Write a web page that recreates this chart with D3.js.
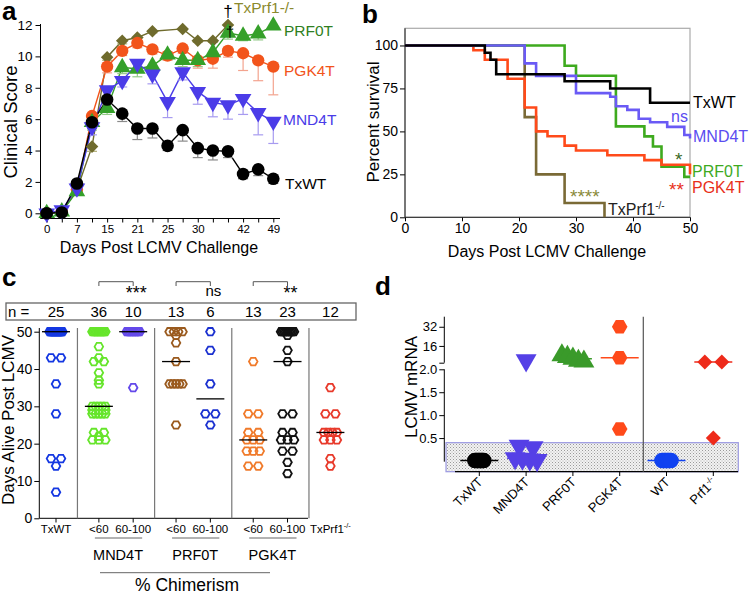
<!DOCTYPE html>
<html>
<head>
<meta charset="utf-8">
<script src="https://cdn.jsdelivr.net/npm/d3@7"></script>
<style>
  body { margin: 0; background: #fff; }
  svg { display: block; font-family: "Liberation Sans", Arial, sans-serif; }
</style>
</head>
<body>
<div id="fig"></div>
<script>
// ---- panel a: clinical score ----
const aDays = [0, 4, 7, 11, 15, 18, 21, 23, 25, 28, 30, 33, 38, 42, 45, 49];
const aLabeledDays = [0, 7, 15, 21, 25, 30, 42, 49];
const aTxWT      = [0, 0.05, 1.9, 5.8, 7.25, 6.35, 5.4, 5.4, 4.3, 5.3, 4.15, 4.0, 3.95, 2.5, 2.8, 2.2];
const aTxWTErr   = [0, 0, 0.3, 0.4, 0.3, 0.5, 0.7, 0.6, 0.3, 0.7, 0.6, 0.6, 0.4, 0.3, 0.4, 0.3];
const aPGK4T     = [0, 0.1, 1.5, 6.2, 9.35, 10.35, 10.85, 10.45, 10.05, 10.5, 9.75, 9.85, 10.35, 10.2, 9.75, 9.35];
const aPGK4TErr  = [0, 0, 0.2, 0.4, 0.4, 0.3, 0.3, 0.3, 0.3, 0.3, 0.5, 0.6, 0.4, 1.1, 1.3, 1.8];
const aPRF0T     = [0, 0.1, 1.4, 5.8, 6.7, 9.3, 9.2, 9.4, 10.1, 9.75, 9.75, 10.25, 11.5, 11.3, 11.45, 11.95];
const aPRF0TErr  = [0, 0, 0.2, 0.5, 0.4, 0.4, 0.5, 0.5, 0.3, 0.4, 0.4, 0.3, 0.4, 0.3, 0.4, 0];
const aMND4T     = [0, 0.2, 1.6, 5.5, 7.85, 8.45, 9.55, 8.85, 7.1, 9.0, 7.75, 7.05, 6.9, 7.3, 6.4, 5.85];
const aMND4TErr  = [0, 0, 0.2, 0.5, 0.4, 0.4, 0.5, 0.6, 1.0, 0.5, 0.8, 0.9, 0.9, 1.0, 1.4, 1.4];
const aTxPrf1    = [0, 0.1, 1.5, 4.25, 9.95, 11.0, 11.2, 11.6, null, 11.75, 11.0, 11.0, 12.0, null, null, null];
const aTxPrf1Err = [0, 0, 0.2, 0.3, 0.2, 0.2, 0.2, 0.1, 0, 0.1, 0.1, 0.1, 0, 0, 0, 0];

// ---- panel b: survival ----
const bTxWTDays  = [0, 14, 15, 16, 28, 36, 43, 50];
const bTxWTSurv  = [100, 95.8, 91.7, 83.3, 79.2, 75, 66.7, 66.7];
const bMND4TDays = [0, 21, 23, 30, 36, 37, 39, 41, 43, 46, 49, 50];
const bMND4TSurv = [100, 89.6, 82.3, 72.3, 70.2, 64.6, 62.5, 57.4, 55.3, 52.6, 47.9, 45.8];
const bPRF0TDays = [0, 28, 30, 37, 42, 43.5, 45, 49, 50];
const bPRF0TSurv = [100, 88.2, 82.4, 52.9, 47.1, 41.2, 29.4, 23.5, 23.5];
const bPGK4TDays = [0, 12, 14, 18, 21, 23, 25, 28, 30, 35.5, 42, 45, 50];
const bPGK4TSurv = [100, 97.2, 91.7, 80.6, 63.9, 50, 47.2, 41.7, 38.9, 36.1, 33.3, 30.6, 25];
const bPrf1Days  = [0, 21, 23, 28, 35];
const bPrf1Surv  = [100, 58.3, 25, 8.3, 0];

// ---- panel c: days alive ----
const cCats = ["TxWT", "MND4T <60", "MND4T 60-100", "PRF0T <60", "PRF0T 60-100", "PGK4T <60", "PGK4T 60-100", "TxPrf1-/-"];
const cTickText = ["TxWT", "<60", "60-100", "<60", "60-100", "<60", "60-100", "TxPrf1"];
const cSlots = [0, 1.25, 2.25, 3.5, 4.5, 5.75, 6.75, 8];
const cN = [25, 36, 10, 13, 6, 13, 23, 12];
const cTxWT = [50,50,50,50,50,50,50,50,50,50,50,50,50,50,50,50,50, 43,43,36,28,16,16,14,7];
const cMND4TLow = [50,50,50,50,50,50,50,50,50,50, 46,43,42,42,39,37,36, 30,30,30,30,30, 29,29,29, 28,28,28,28,28, 23,23,22,21,21,21];
const cMND4THigh = [50,50,50,50,50,50,50,50,50, 35];
const cPRF0TLow = [50,50,50,50, 49,47,42, 36,36,36,36,36, 25];
const cPRF0THigh = [50,45,36,28,28,25];
const cPGK4TLow = [42,28,28,23,23,21,21,21,18,18,18,14,14];
const cPGK4THigh = [50,50,50,50,50,50,50,50,50, 49,45,42,28,28,23,23,21,21,21,18,18,15,12];
const cTxPrf1 = [35,28,28,23,23,23,23,21,21,21,16,14];
const cColors = ["#1538e2", "#66e52b", "#6449ea", "#9a5a1e", "#1a30d0", "#f07a2a", "#111111", "#e8392a"];

// ---- panel d: LCMV mRNA ----
const dCats = ["TxWT", "MND4T", "PRF0T", "PGK4T", "WT", "Prf1"];
const dTxWT  = [0.01,0.01,0.01,0.01,0.01,0.01,0.01,0.01,0.01,0.01];
const dMND4T = [4.0, 0.33, 0.3, 0.06, 0.05, 0.03, 0.02];
const dPRF0T = [8.2, 6.8, 5.4, 3.6, 3.0];
const dPGK4T = [32, 6.2, 0.7];
const dWT    = [0.01,0.01,0.01,0.01,0.01,0.01,0.01,0.01];
const dPrf1  = [2.6, 2.6, 0.5];
const dDetectLimit = 0.4;
const dLowTicks = [0.5, 1.0, 1.5, 2.0];
const dHighTicks = [2, 16, 32];

const FONT = "'Liberation Sans', Arial, sans-serif";
const svg = d3.select("#fig").append("svg")
  .attr("width", 750).attr("height", 595)
  .attr("viewBox", [0, 0, 750, 595]);

function styleAxis(g, size) {
  g.attr("font-size", size).attr("font-family", FONT);
  g.select(".domain").remove();
  g.selectAll("line").attr("stroke", "#000");
}

// spread points that share a key evenly across at most maxW px
function swarm(vals, key, gap, maxW) {
  const out = vals.map(v => ({ v, dx: 0 }));
  for (const arr of d3.group(out, d => key(d.v)).values()) {
    const n = arr.length;
    if (n < 2) continue;
    const w = Math.min((n - 1) * gap, maxW);
    arr.forEach((d, j) => d.dx = -w / 2 + w * j / (n - 1));
  }
  return out;
}

function hexPath(r) {
  const p = d3.path();
  for (let k = 0; k < 6; k++) {
    const a = Math.PI / 3 * k;
    k ? p.lineTo(r * Math.cos(a), r * Math.sin(a)) : p.moveTo(r, 0);
  }
  p.closePath();
  return p.toString();
}

function symbolOf(kind, size) {
  if (kind === "circle") return { d: d3.symbol(d3.symbolCircle, size)(), rot: 0 };
  if (kind === "up") return { d: d3.symbol(d3.symbolTriangle, size)(), rot: 0 };
  if (kind === "down") return { d: d3.symbol(d3.symbolTriangle, size)(), rot: 180 };
  if (kind === "diamond") return { d: d3.symbol(d3.symbolSquare, size * 0.75)(), rot: 45 };
  return { d: hexPath(Math.sqrt(size / Math.PI)), rot: 0 };
}

// panel letters
[["a", 2, 20], ["b", 362, 23], ["c", 2, 286], ["d", 375, 295]].forEach(([t, x, y]) =>
  svg.append("text").attr("x", x).attr("y", y).attr("font-size", 26)
    .attr("font-weight", "bold").text(t));

// ================= panel a =================
{
  const g = svg.append("g");
  const x = d3.scalePoint().domain(aDays).range([46.7, 273.3]);
  const y = d3.scaleLinear().domain([0, 12]).range([213.3, 25]);

  g.append("g").attr("transform", "translate(40.5,0)")
    .call(d3.axisLeft(y).tickValues(d3.range(0, 13, 2)).tickSize(5).tickPadding(3))
    .call(a => styleAxis(a, 13.5));
  g.append("line").attr("x1", 40.5).attr("x2", 40.5).attr("y1", 24).attr("y2", 218.5).attr("stroke", "#000");
  g.append("g").attr("transform", "translate(0,218.5)")
    .call(d3.axisBottom(x).tickSize(4).tickPadding(2)
      .tickFormat(d => aLabeledDays.includes(d) ? d : ""))
    .call(a => styleAxis(a, 11.5));
  g.append("line").attr("x1", 40.5).attr("x2", 280).attr("y1", 218.5).attr("y2", 218.5).attr("stroke", "#000");

  g.append("text").attr("transform", "translate(16.5,122) rotate(-90)")
    .attr("text-anchor", "middle").attr("font-size", 18.5).text("Clinical Score");
  g.append("text").attr("x", 159).attr("y", 253).attr("text-anchor", "middle")
    .attr("font-size", 16).text("Days Post LCMV Challenge");

  const series = [
    { vals: aTxPrf1, err: aTxPrf1Err, color: "#6f6b2d", errColor: "#b3b07a", sym: "diamond", size: 105 },
    { vals: aPGK4T, err: aPGK4TErr, color: "#f2541b", errColor: "#f3a38e", sym: "circle", size: 120 },
    { vals: aPRF0T, err: aPRF0TErr, color: "#35a02a", errColor: "#95c98a", sym: "up", size: 120 },
    { vals: aMND4T, err: aMND4TErr, color: "#4b3ce8", errColor: "#a79bf0", sym: "down", size: 120 },
    { vals: aTxWT, err: aTxWTErr, color: "#000000", errColor: "#8a8a8a", sym: "circle", size: 125 }
  ];

  series.forEach(s => {
    const pts = aDays.map((d, i) => ({ d, v: s.vals[i], e: s.err[i] })).filter(p => p.v != null);
    g.append("path").attr("fill", "none").attr("stroke", s.color).attr("stroke-width", 1.4)
      .attr("d", d3.line().x(p => x(p.d)).y(p => y(p.v))(pts));
    const eb = g.append("g").attr("stroke", s.errColor).attr("stroke-width", 1.2);
    pts.filter(p => p.e > 0).forEach(p => {
      eb.append("line").attr("x1", x(p.d)).attr("x2", x(p.d)).attr("y1", y(p.v)).attr("y2", y(p.v - p.e));
      eb.append("line").attr("x1", x(p.d) - 5).attr("x2", x(p.d) + 5).attr("y1", y(p.v - p.e)).attr("y2", y(p.v - p.e));
    });
  });
  series.forEach(s => {
    const sym = symbolOf(s.sym, s.size);
    aDays.forEach((d, i) => {
      if (s.vals[i] == null) return;
      g.append("path").attr("d", sym.d).attr("fill", s.color)
        .attr("transform", `translate(${x(d)},${y(s.vals[i])}) rotate(${sym.rot})`);
    });
  });

  g.append("text").attr("x", 228).attr("y", 17).attr("text-anchor", "middle").attr("font-size", 17).text("†");
  g.append("text").attr("x", 230).attr("y", 37).attr("text-anchor", "middle").attr("font-size", 15).text("†");
  [["TxPrf1-/-", 234, 13, "#8b8a2e"], ["PRF0T", 284, 36, "#2f7f22"], ["PGK4T", 284, 76, "#f2541b"],
   ["MND4T", 283, 125, "#4a3ce8"], ["TxWT", 285, 189, "#000"]].forEach(([t, tx, ty, c]) =>
    g.append("text").attr("x", tx).attr("y", ty).attr("fill", c).attr("font-size", 15.5).text(t));
}

// ================= panel b =================
{
  const g = svg.append("g");
  const x = d3.scaleLinear().domain([0, 50]).range([405, 690]);
  const y = d3.scaleLinear().domain([0, 110]).range([217.3, 28.3]);

  g.append("rect").attr("x", 405).attr("y", 28.3).attr("width", 285).attr("height", 189)
    .attr("fill", "none").attr("stroke", "#aaa").attr("stroke-width", 1.2);
  g.append("g").attr("transform", "translate(405,0)")
    .call(d3.axisLeft(y).tickValues([0, 25, 50, 75, 100]).tickSize(5).tickPadding(2))
    .call(a => styleAxis(a, 14));
  g.append("g").attr("transform", "translate(0,217.3)")
    .call(d3.axisBottom(x).tickValues(d3.range(0, 51, 10)).tickSize(4).tickPadding(2))
    .call(a => styleAxis(a, 14));
  g.append("line").attr("x1", 405).attr("x2", 405).attr("y1", 28.3).attr("y2", 217.3).attr("stroke", "#222");
  g.append("line").attr("x1", 405).attr("x2", 690).attr("y1", 217.3).attr("y2", 217.3).attr("stroke", "#222");

  g.append("text").attr("transform", "translate(379,122) rotate(-90)")
    .attr("text-anchor", "middle").attr("font-size", 17).text("Percent survival");
  g.append("text").attr("x", 547).attr("y", 257).attr("text-anchor", "middle")
    .attr("font-size", 16).text("Days Post LCMV Challenge");

  const curves = [
    { t: bPrf1Days, s: bPrf1Surv, color: "#7a6a36" },
    { t: bPRF0TDays, s: bPRF0TSurv, color: "#3eaa1e" },
    { t: bPGK4TDays, s: bPGK4TSurv, color: "#ff4a1a" },
    { t: bMND4TDays, s: bMND4TSurv, color: "#6a5af5" },
    { t: bTxWTDays, s: bTxWTSurv, color: "#000000" }
  ];
  const line = d3.line().x(d => x(d[0])).y(d => y(d[1])).curve(d3.curveStepAfter);
  curves.forEach(c => g.append("path").attr("fill", "none").attr("stroke", c.color)
    .attr("stroke-width", 2.6).attr("d", line(c.t.map((t, i) => [t, c.s[i]]))));

  [["TxWT", 693, 108, "#000", 16], ["ns", 671, 122, "#5a4cf0", 16], ["MND4T", 693, 142, "#5a4cf0", 16],
   ["*", 675, 166, "#3b6a26", 19], ["PRF0T", 692, 177, "#3eaa1e", 16], ["**", 669, 196, "#e8301a", 19],
   ["PGK4T", 692, 193, "#e8301a", 16], ["****", 570, 203, "#8a8a3a", 19]].forEach(([t, tx, ty, c, fs]) =>
    g.append("text").attr("x", tx).attr("y", ty).attr("fill", c).attr("font-size", fs).text(t));
  const tp = g.append("text").attr("x", 608).attr("y", 215).attr("font-size", 16).attr("fill", "#222");
  tp.append("tspan").text("TxPrf1");
  tp.append("tspan").attr("dy", -6).attr("font-size", 10).text("-/-");
}

// ================= panel c =================
{
  const g = svg.append("g");
  const x = d3.scaleLinear().domain([0, 8]).range([56, 330.4]);
  const y = d3.scaleLinear().domain([0, 50]).range([518.3, 331.7]);
  const cVals = [cTxWT, cMND4TLow, cMND4THigh, cPRF0TLow, cPRF0THigh, cPGK4TLow, cPGK4THigh, cTxPrf1];

  // n = box
  g.append("rect").attr("x", 6).attr("y", 303).attr("width", 350).attr("height", 17)
    .attr("fill", "none").attr("stroke", "#666").attr("stroke-width", 1.3);
  g.append("text").attr("x", 8).attr("y", 317).attr("font-size", 15).text("n =");
  cN.forEach((n, i) => g.append("text").attr("x", x(cSlots[i])).attr("y", 317)
    .attr("text-anchor", "middle").attr("font-size", 15).text(n));

  // significance brackets
  [[1, 2, "***"], [3, 4, "ns"], [5, 6, "**"]].forEach(([a, b, t]) => {
    const x1 = x(cSlots[a]), x2 = x(cSlots[b]);
    g.append("path").attr("fill", "none").attr("stroke", "#555").attr("stroke-width", 1)
      .attr("d", `M${x1},286V281.7H${x2}V286`);
    g.append("text").attr("x", x2 + 3).attr("y", t === "ns" ? 296 : 299).attr("text-anchor", "middle")
      .attr("font-size", t === "ns" ? 15 : 18).text(t);
  });

  g.append("g").attr("transform", "translate(39.3,0)")
    .call(d3.axisLeft(y).tickValues(d3.range(0, 51, 10)).tickSize(5).tickPadding(2))
    .call(a => styleAxis(a, 14));
  g.append("line").attr("x1", 39.3).attr("x2", 39.3).attr("y1", 328).attr("y2", 518.3).attr("stroke", "#000");
  g.append("line").attr("x1", 39.3).attr("x2", 308).attr("y1", 518.3).attr("y2", 518.3).attr("stroke", "#000");
  cSlots.slice(0, 7).forEach(s => g.append("line").attr("x1", x(s)).attr("x2", x(s))
    .attr("y1", 518.3).attr("y2", 522.5).attr("stroke", "#000"));

  // group separators
  [[0, 1.25], [2.25, 3.5], [4.5, 5.75], [6.75, 8]].forEach(([a, b]) => {
    const xs = x((a + b) / 2);
    g.append("line").attr("x1", xs).attr("x2", xs).attr("y1", 328).attr("y2", 518.3)
      .attr("stroke", "#777").attr("stroke-width", 1.2);
  });

  g.append("text").attr("transform", "translate(14,420) rotate(-90)")
    .attr("text-anchor", "middle").attr("font-size", 17).text("Days Alive Post LCMV");

  // tick labels
  cTickText.forEach((t, i) => {
    const tx = g.append("text").attr("x", x(cSlots[i])).attr("y", 533)
      .attr("text-anchor", "middle").attr("font-size", 11.5).text(t);
    if (i === 7) tx.append("tspan").attr("dy", -5).attr("font-size", 7.5).text("-/-");
  });
  [["MND4T", 1, 2], ["PRF0T", 3, 4], ["PGK4T", 5, 6]].forEach(([t, a, b]) => {
    g.append("line").attr("x1", x(cSlots[a]) - 4).attr("x2", x(cSlots[b]) + 9)
      .attr("y1", 538).attr("y2", 538).attr("stroke", "#666");
    g.append("text").attr("x", (x(cSlots[a]) + x(cSlots[b])) / 2 + 2).attr("y", 560)
      .attr("text-anchor", "middle").attr("font-size", 14.5).text(t);
  });
  g.append("line").attr("x1", 100).attr("x2", 270).attr("y1", 572.7).attr("y2", 572.7).attr("stroke", "#666");
  g.append("text").attr("x", 187).attr("y", 591).attr("text-anchor", "middle")
    .attr("font-size", 17.5).text("% Chimerism");

  const hex = hexPath(4.3);
  cVals.forEach((vals, i) => {
    const cx = x(cSlots[i]);
    const pts = swarm(vals, v => v, 10, 13);
    g.append("g").selectAll("path").data(pts).join("path")
      .attr("d", hex).attr("fill", "none").attr("stroke", cColors[i]).attr("stroke-width", 1.8)
      .attr("transform", d => `translate(${cx + d.dx},${y(d.v)})`);
    const m = d3.median(vals);
    g.append("line").attr("x1", cx - 14).attr("x2", cx + 14).attr("y1", y(m)).attr("y2", y(m))
      .attr("stroke", "#000").attr("stroke-width", 1.3);
  });
}

// ================= panel d =================
{
  const g = svg.append("g");
  const x = d3.scalePoint().domain(dCats).range([479.3, 713.3]);
  const yLow = d3.scaleLinear().domain([0, 2]).range([461, 369.3]);
  const yHigh = d3.scaleLinear().domain([2, 40.4]).range([362.7, 316.7]);
  const yv = v => v > 2 ? yHigh(v) : yLow(v);

  const defs = svg.append("defs");
  const pat = defs.append("pattern").attr("id", "stipple").attr("width", 3).attr("height", 3)
    .attr("patternUnits", "userSpaceOnUse");
  pat.append("rect").attr("width", 3).attr("height", 3).attr("fill", "#f2f2f2");
  pat.append("rect").attr("width", 1).attr("height", 1).attr("fill", "#9a9a9a");
  pat.append("rect").attr("x", 1.5).attr("y", 1.5).attr("width", 1).attr("height", 1).attr("fill", "#b5b5b5");

  g.append("rect").attr("x", 446).attr("y", yLow(dDetectLimit)).attr("width", 292.3)
    .attr("height", 471.7 - yLow(dDetectLimit)).attr("fill", "url(#stipple)")
    .attr("stroke", "#9c9ae2").attr("stroke-width", 1.2);

  g.append("g").attr("transform", "translate(444.3,0)")
    .call(d3.axisLeft(yLow).tickValues(dLowTicks).tickFormat(d3.format(".1f")).tickSize(5).tickPadding(2))
    .call(a => styleAxis(a, 13));
  g.append("g").attr("transform", "translate(444.3,0)")
    .call(d3.axisLeft(yHigh).tickValues(dHighTicks).tickFormat(d => d === 2 ? "" : d).tickSize(5).tickPadding(2))
    .call(a => styleAxis(a, 13));
  g.append("line").attr("x1", 444.3).attr("x2", 444.3).attr("y1", 316.7).attr("y2", 362.7).attr("stroke", "#000");
  g.append("line").attr("x1", 444.3).attr("x2", 444.3).attr("y1", 369.3).attr("y2", 461.7).attr("stroke", "#000");

  g.append("line").attr("x1", 455).attr("x2", 738).attr("y1", 471.7).attr("y2", 471.7)
    .attr("stroke", "#000").attr("stroke-width", 1.3);
  dCats.forEach(c => g.append("line").attr("x1", x(c)).attr("x2", x(c))
    .attr("y1", 471.7).attr("y2", 476).attr("stroke", "#000"));
  g.append("line").attr("x1", 643.3).attr("x2", 643.3).attr("y1", 316.7).attr("y2", 471.7)
    .attr("stroke", "#555").attr("stroke-width", 1.2);

  g.append("text").attr("transform", "translate(417,387) rotate(-90)")
    .attr("text-anchor", "middle").attr("font-size", 17).text("LCMV mRNA");

  const dLabels = ["TxWT", "MND4T", "PRF0T", "PGK4T", "WT", "Prf1"];
  dCats.forEach((c, i) => {
    const t = g.append("text").attr("transform", `translate(${x(c) + 4},${483}) rotate(-45)`)
      .attr("text-anchor", "end").attr("font-size", 13);
    t.append("tspan").text(dLabels[i]);
    if (c === "Prf1") t.append("tspan").attr("dy", -5).attr("font-size", 8).text("-/-");
  });

  const groups = [
    { c: "TxWT", vals: dTxWT, color: "#000000", sym: "circle", size: 190, gap: 2, maxW: 9 },
    { c: "MND4T", vals: dMND4T, color: "#5540e6", sym: "down", size: 190, gap: 14, maxW: 22 },
    { c: "PRF0T", vals: dPRF0T, color: "#3a9a2a", sym: "up", size: 190, gap: 6, maxW: 22 },
    { c: "PGK4T", vals: dPGK4T, color: "#ff4a1a", sym: "hex", size: 190, gap: 0, maxW: 0 },
    { c: "WT", vals: dWT, color: "#1042f0", sym: "circle", size: 190, gap: 2, maxW: 9 },
    { c: "Prf1", vals: dPrf1, color: "#ee2a1a", sym: "diamond", size: 150, gap: 17, maxW: 17 }
  ];
  groups.forEach(gr => {
    const cx = x(gr.c);
    const m = d3.median(gr.vals);
    g.append("line").attr("x1", cx - 19).attr("x2", cx + 19).attr("y1", yv(m)).attr("y2", yv(m))
      .attr("stroke", gr.color).attr("stroke-width", 1.5);
    const sym = symbolOf(gr.sym, gr.size);
    const pts = swarm(gr.vals, v => Math.round(yv(v) / 12), gr.gap, gr.maxW);
    g.append("g").selectAll("path").data(pts).join("path")
      .attr("d", sym.d).attr("fill", gr.color)
      .attr("transform", d => `translate(${cx + d.dx},${yv(d.v)}) rotate(${sym.rot})`);
  });
}
</script>
</body>
</html>
